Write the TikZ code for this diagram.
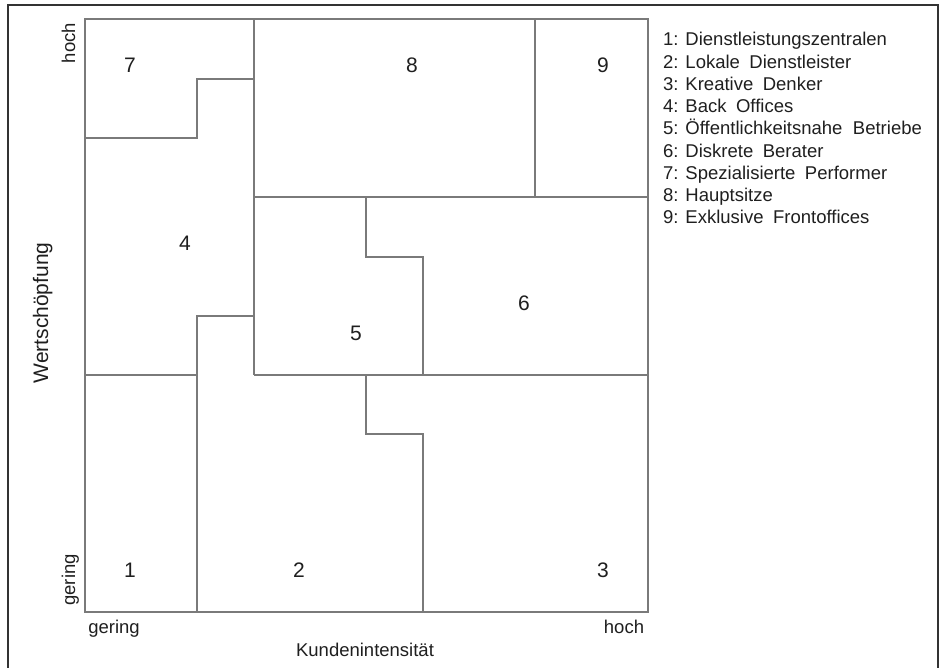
\documentclass[tikz,border=0pt]{standalone}
\usepackage{fontspec}
\setmainfont{Liberation Sans}
\newcommand\wsp{\hspace{9.5pt}}
\begin{document}
\begin{tikzpicture}[x=1pt,y=-1pt,
  region/.style={draw=black!52, line width=1.6pt},
  frame/.style={draw=black!80, line width=1.1pt},
  txt/.style={inner sep=0pt, text=black!88, font=\fontsize{18.5}{22}\selectfont},
  num/.style={inner sep=0pt, text=black!88, font=\fontsize{21}{24}\selectfont},
  legend/.style={txt, anchor=base west}]
\useasboundingbox (0,0) rectangle (944,668);
\fill[white] (0,0) rectangle (944,668);
% outer frame
\draw[frame] (8,668) -- (8,5) -- (938,5) -- (938,668);
% square
\coordinate (tl) at (85,19);
\coordinate (br) at (648,612);
\draw[region] (tl) rectangle (br);
% region boundaries
\draw[region] (85,138) -- (197,138) -- (197,79) -- (254,79);
\draw[region] (254,19) -- (254,375);
\draw[region] (254,316) -- (197,316) -- (197,612);
\draw[region] (85,375) -- (197,375);
\draw[region] (254,375) -- (648,375);
\draw[region] (254,197) -- (648,197);
\draw[region] (535,19) -- (535,197);
\draw[region] (366,197) -- (366,257) -- (423,257) -- (423,375);
\draw[region] (366,375) -- (366,434) -- (423,434) -- (423,612);
% region numbers
\node[num] (n7) at (130,65) {7};
\node[num] (n8) at (412,65) {8};
\node[num] (n9) at (603,65) {9};
\node[num] (n4) at (185,243) {4};
\node[num] (n5) at (356,333) {5};
\node[num] (n6) at (524,303) {6};
\node[num] (n1) at (130,570) {1};
\node[num] (n2) at (299,570) {2};
\node[num] (n3) at (603,570) {3};
% axis labels
\node[txt, rotate=90, anchor=base] (yhoch) at (75,43) {hoch};
\node[txt, rotate=90, anchor=base] (ygering) at (75,580) {gering};
\node[txt, rotate=90, anchor=base, font=\fontsize{21}{24}\selectfont] (ylab) at (48,313) {Wertschöpfung};
\node[txt, anchor=base] (xgering) at (114,633) {gering};
\node[txt, anchor=base] (xhoch) at (624,633) {hoch};
\node[txt, anchor=base] (xlab) at (365,656) {Kundenintensität};
% legend
\node[legend] (l1) at (663,46) {1: Dienstleistungszentralen};
\node[legend] (l2) at (663,68.25) {2: Lokale\wsp Dienstleister};
\node[legend] (l3) at (663,90.5) {3: Kreative\wsp Denker};
\node[legend] (l4) at (663,112.75) {4: Back\wsp Offices};
\node[legend] (l5) at (663,135) {5: Öffentlichkeitsnahe\wsp\hspace{1pt}Betriebe};
\node[legend] (l6) at (663,157.25) {6: Diskrete\wsp Berater};
\node[legend] (l7) at (663,179.5) {7: Spezialisierte\wsp Performer};
\node[legend] (l8) at (663,201.75) {8: Hauptsitze};
\node[legend] (l9) at (663,224) {9: Exklusive\wsp Frontoffices};
\end{tikzpicture}
\end{document}
